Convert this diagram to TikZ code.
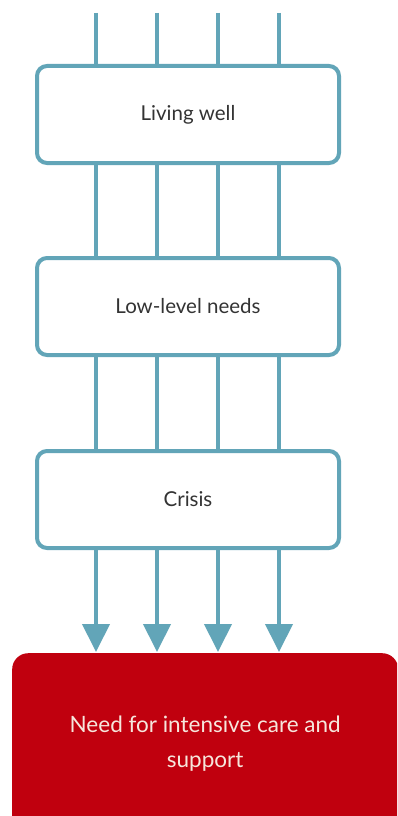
\documentclass[tikz,border=0pt]{standalone}
\usepackage{fontspec}
\setmainfont{Lato}
\usetikzlibrary{arrows.meta}
\definecolor{teal}{HTML}{62A5B8}
\definecolor{darkred}{HTML}{C0000E}
\definecolor{txt}{HTML}{333333}
\definecolor{cream}{HTML}{F6E6DC}
\begin{document}
\begin{tikzpicture}[x=1pt,y=-1pt,
  stage/.style={draw=teal,line width=4pt,fill=white,rounded corners=10pt,
    minimum width=302pt,minimum height=97pt,inner sep=0pt,
    font=\fontsize{20.5}{24}\selectfont,text=txt},
  outcome/.style={fill=darkred,rounded corners=16pt,minimum width=386pt,
    minimum height=180pt,inner sep=0pt,text=cream,align=center,
    font=\fontsize{22.5}{35}\selectfont},
  flow/.style={draw=teal,line width=4pt},
  flowarrow/.style={flow,-{Triangle[width=27pt,length=28pt]}}]
\useasboundingbox (0,0) rectangle (397,816);
\clip (0,0) rectangle (397,816);
\fill[white] (0,0) rectangle (397,816);
\node[stage] (b1) at (188,114.5) {Living well};
\node[stage] (b2) at (188,306.5) {Low-level needs};
\node[stage] (b3) at (188,499.5) {Crisis};
\node[outcome,anchor=north west] (r) at (12,653) {Need for intensive care and\\support};
\foreach \i/\x in {1/96,2/157,3/218,4/279}{
  \coordinate (t\i) at (\x,13);
  \coordinate (e\i) at (\x,652);
  \draw[flow] (t\i) -- (b1.north -| t\i);
  \draw[flow] (b1.south -| t\i) -- (b2.north -| t\i);
  \draw[flow] (b2.south -| t\i) -- (b3.north -| t\i);
  \draw[flowarrow] (b3.south -| t\i) -- (e\i);
}
\end{tikzpicture}
\end{document}
